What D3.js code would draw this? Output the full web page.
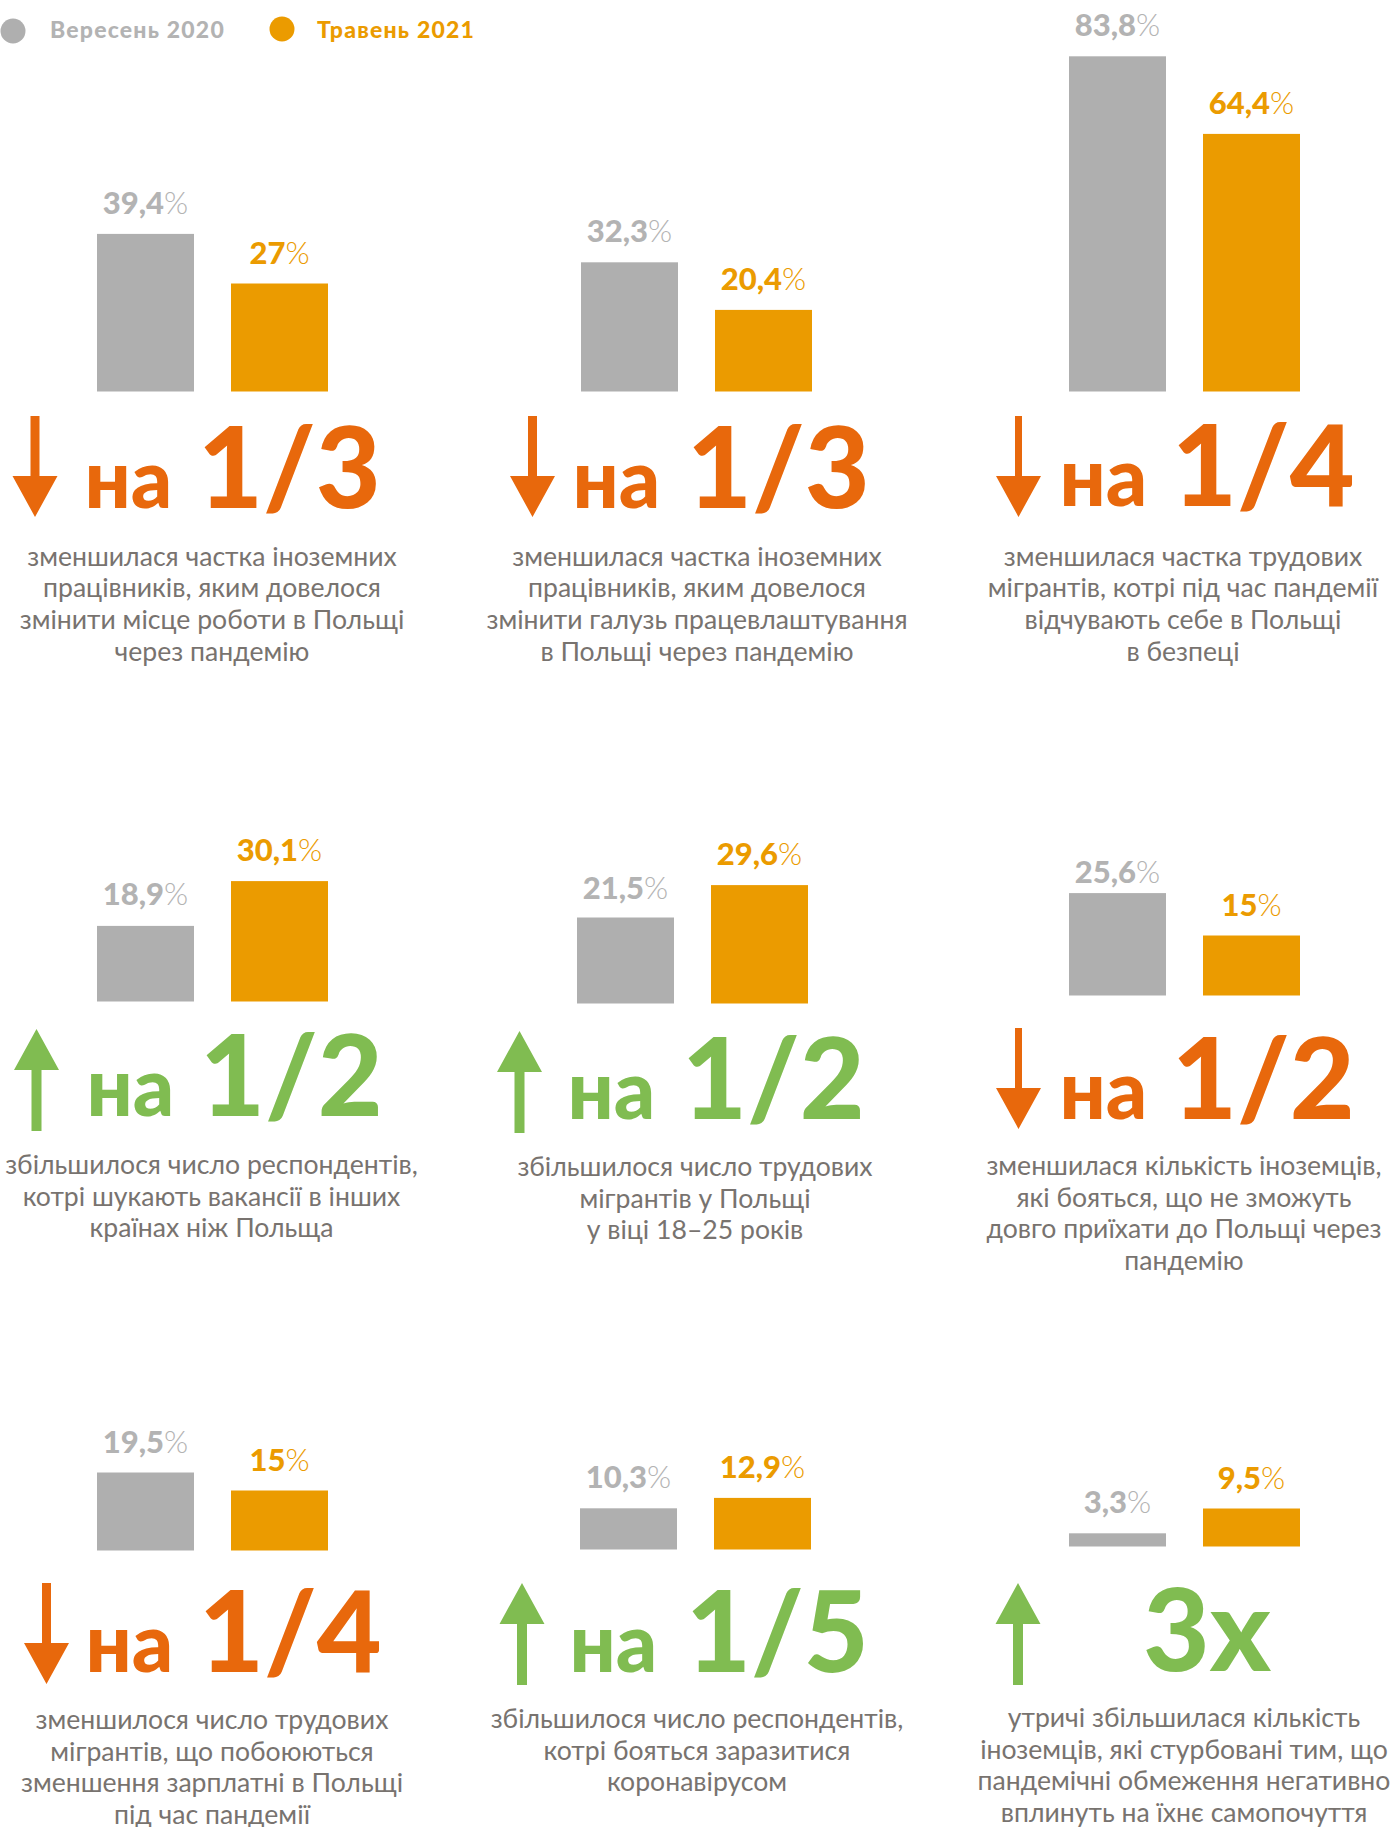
<!DOCTYPE html>
<html>
<head>
<meta charset="utf-8">
<script src="https://cdn.jsdelivr.net/npm/d3@7"></script>
<style>
  html, body { margin: 0; padding: 0; background: #fff; }
  svg { display: block; font-family: Lato, "Noto Sans", sans-serif; }
</style>
</head>
<body>
<svg id="chart" width="1395" height="1827"></svg>
<script>
// ---------- DATA ----------
const series = ["Вересень 2020", "Травень 2021"];
const sep2020 = [39.4, 32.3, 83.8, 18.9, 21.5, 25.6, 19.5, 10.3, 3.3];
const may2021 = [27, 20.4, 64.4, 30.1, 29.6, 15, 15, 12.9, 9.5];
const direction = ["down", "down", "down", "up", "up", "down", "down", "up", "up"];
const changePrefix = ["на", "на", "на", "на", "на", "на", "на", "на", ""];
const changeLabel = ["1/3", "1/3", "1/4", "1/2", "1/2", "1/2", "1/4", "1/5", "3x"];
const descriptions = [
  ["зменшилася частка іноземних", "працівників, яким довелося", "змінити місце роботи в Польщі", "через пандемію"],
  ["зменшилася частка іноземних", "працівників, яким довелося", "змінити галузь працевлаштування", "в Польщі через пандемію"],
  ["зменшилася частка трудових", "мігрантів, котрі під час пандемії", "відчувають себе в Польщі", "в безпеці"],
  ["збільшилося число респондентів,", "котрі шукають вакансії в інших", "країнах ніж Польща"],
  ["збільшилося число трудових", "мігрантів у Польщі", "у віці 18–25 років"],
  ["зменшилася кількість іноземців,", "які бояться, що не зможуть", "довго приїхати до Польщі через", "пандемію"],
  ["зменшилося число трудових", "мігрантів, що побоюються", "зменшення зарплатні в Польщі", "під час пандемії"],
  ["збільшилося число респондентів,", "котрі бояться заразитися", "коронавірусом"],
  ["утричі збільшилася кількість", "іноземців, які стурбовані тим, що", "пандемічні обмеження негативно", "вплинуть на їхнє самопочуття"]
];

// ---------- LAYOUT (positions only) ----------
const layout = [
  {gx: 97,   base: 391.5,  ax: 35,     aTop: 416,  aBot: 517,  sw: 9,  naX: 84.5,   fx: 198,  by: 508,  dx: 212,  dy: 565.5, lg: [20, 20]},
  {gx: 581,  base: 391.5,  ax: 532.5,  aTop: 416,  aBot: 517,  sw: 9,  naX: 572.5,  fx: 687,  by: 508,  dx: 697,  dy: 565.5, lg: [20, 20]},
  {gx: 1069, base: 391.5,  ax: 1018.5, aTop: 416,  aBot: 517,  sw: 7,  naX: 1059.5, fx: 1172, by: 506,  dx: 1183, dy: 565.5, lg: [20, 20]},
  {gx: 97,   base: 1001.5, ax: 36.5,   aTop: 1029, aBot: 1131, sw: 10, naX: 86.5,   fx: 200,  by: 1116, dx: 211.5, dy: 1174, lg: [21, 20]},
  {gx: 577,  base: 1003.5, ax: 519.5,  aTop: 1031, aBot: 1133, sw: 10, naX: 567.5,  fx: 682,  by: 1119, dx: 695,  dy: 1176, lg: [19, 20]},
  {gx: 1069, base: 995.5,  ax: 1018.5, aTop: 1028, aBot: 1129, sw: 7,  naX: 1059.5, fx: 1172, by: 1119, dx: 1184, dy: 1175, lg: [10, 20]},
  {gx: 97,   base: 1550.5, ax: 46.5,   aTop: 1583, aBot: 1684, sw: 9,  naX: 85.5,   fx: 199,  by: 1672, dx: 212,  dy: 1729, lg: [20, 20]},
  {gx: 580,  base: 1549.5, ax: 522,    aTop: 1583, aBot: 1685, sw: 10, naX: 569.5,  fx: 686,  by: 1672, dx: 697,  dy: 1728, lg: [20, 20]},
  {gx: 1069, base: 1546.5, ax: 1018,   aTop: 1583, aBot: 1685, sw: 10, naX: 0,      fx: 1207, by: 1671, dx: 1184, dy: 1727, lg: [20, 20]}
];

const colors = {
  gray: "#afafaf", grayText: "#b3b3b3",
  orangeBar: "#eb9b00", orangeText: "#eb9b00",
  down: "#e8680c", up: "#80bc51",
  desc: "#78736f"
};

const svg = d3.select("#chart");

// scales
const h = d3.scaleLinear().domain([0, 100]).range([0, 400]);
const x = d3.scaleBand().domain(series).range([0, 231]).paddingInner(0.2761).paddingOuter(0);
const color = d3.scaleOrdinal().domain(series).range([colors.gray, colors.orangeBar]);
const textColor = d3.scaleOrdinal().domain(series).range([colors.grayText, colors.orangeText]);

// ---------- LEGEND ----------
const legend = svg.append("g");
const legendX = [13, 282];
const legendText = [50, 317];
series.forEach((s, i) => {
  legend.append("circle").attr("cx", legendX[i]).attr("cy", i === 0 ? 31 : 29).attr("r", 12.5)
    .attr("fill", color(s));
  legend.append("text").attr("x", legendText[i]).attr("y", 38)
    .attr("font-size", 23).attr("font-weight", 900).attr("letter-spacing", 1.2)
    .attr("fill", textColor(s)).text(s);
});

const fmt = v => String(v).replace(".", ",");

// ---------- PANELS ----------
sep2020.forEach((v0, i) => {
  const L = layout[i];
  const g = svg.append("g");
  const vals = [{s: series[0], v: v0, k: 0}, {s: series[1], v: may2021[i], k: 1}];

  const bg = g.append("g").attr("transform", `translate(${L.gx},0)`);
  bg.selectAll("rect").data(vals).join("rect")
    .attr("x", d => x(d.s))
    .attr("width", x.bandwidth())
    .attr("y", d => L.base - h(d.v))
    .attr("height", d => h(d.v))
    .attr("fill", d => color(d.s));

  const lab = bg.selectAll("text.val").data(vals).join("text").attr("class", "val")
    .attr("x", d => x(d.s) + x.bandwidth() / 2)
    .attr("y", d => L.base - h(d.v) - L.lg[d.k])
    .attr("text-anchor", "middle")
    .attr("font-size", 31)
    .attr("fill", d => textColor(d.s));
  lab.append("tspan").attr("font-weight", 900).text(d => fmt(d.v));
  lab.append("tspan").attr("font-weight", 300).text("%");

  // arrow
  const c = direction[i] === "up" ? colors.up : colors.down;
  const hw = 22.5, hh = 41, sw = L.sw;
  let pts;
  const t = L.aTop, b = L.aBot, cx = L.ax;
  if (direction[i] === "down") {
    pts = [[cx - sw/2, t], [cx + sw/2, t], [cx + sw/2, b - hh], [cx + hw, b - hh], [cx, b], [cx - hw, b - hh], [cx - sw/2, b - hh]];
  } else {
    pts = [[cx, t], [cx + hw, t + hh], [cx + sw/2, t + hh], [cx + sw/2, b], [cx - sw/2, b], [cx - sw/2, t + hh], [cx - hw, t + hh]];
  }
  g.append("path").attr("d", d3.line()(pts) + "Z").attr("fill", c);

  // big text
  if (changePrefix[i]) {
    g.append("text").attr("x", L.naX).attr("y", L.by)
      .attr("font-size", 81).attr("font-weight", 900).attr("fill", c).text(changePrefix[i]);
    g.append("text").attr("x", L.fx).attr("y", L.by)
      .attr("font-size", 112).attr("font-weight", 900).attr("fill", c).text(changeLabel[i]);
  } else {
    g.append("text").attr("x", L.fx).attr("y", L.by).attr("text-anchor", "middle")
      .attr("font-size", 115).attr("font-weight", 900).attr("fill", c).text(changeLabel[i]);
  }

  // description
  const dt = g.append("text").attr("text-anchor", "middle").attr("font-size", 26.6)
    .attr("fill", colors.desc);
  descriptions[i].forEach((line, k) => {
    dt.append("tspan").attr("x", L.dx).attr("y", L.dy + k * 31.7).text(line);
  });
});
</script>
</body>
</html>
